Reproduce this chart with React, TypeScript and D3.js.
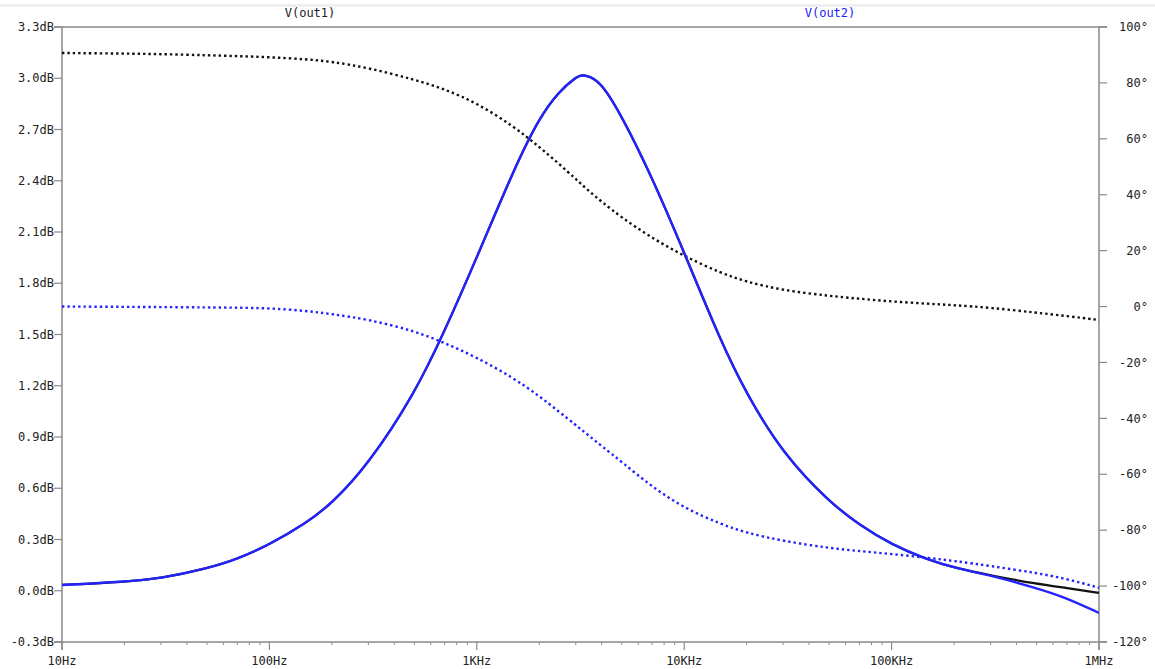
import React from "react";
import * as d3 from "d3";

// AC sweep samples, 10 Hz .. 1 MHz
const freqHz = [
  10, 20, 30, 50, 70, 100, 150, 200, 300, 500, 700,
  1e3, 1.5e3, 2e3, 2.5e3, 3e3, 3.2e3, 3.5e3, 4e3, 5e3, 7e3,
  1e4, 1.5e4, 2e4, 3e4, 5e4, 7e4, 1e5, 1.5e5, 2e5, 3e5, 5e5, 7e5, 1e6,
];

// Magnitude (dB)
const magOut1Db = [
  0.034, 0.052, 0.072, 0.13, 0.185, 0.27, 0.395, 0.51, 0.74, 1.15, 1.52,
  1.95, 2.46, 2.77, 2.925, 3.005, 3.02, 3.012, 2.97, 2.78, 2.42,
  1.98, 1.46, 1.15, 0.8, 0.52, 0.385, 0.27, 0.18, 0.135, 0.09, 0.04, 0.016, -0.013,
];
const magOut2Db = [
  0.034, 0.052, 0.072, 0.13, 0.185, 0.27, 0.395, 0.51, 0.74, 1.15, 1.52,
  1.95, 2.46, 2.77, 2.925, 3.005, 3.02, 3.012, 2.97, 2.78, 2.42,
  1.98, 1.46, 1.15, 0.8, 0.52, 0.385, 0.27, 0.18, 0.135, 0.09, 0.016, -0.042, -0.13,
];

// Phase (degrees)
const phaseOut1Deg = [
  90.7, 90.5, 90.3, 89.9, 89.6, 89.2, 88.5, 87.6, 85.4, 81.2, 77.8,
  72.8, 64.6, 57.1, 51.0, 45.6, 43.7, 41.1, 37.5, 31.8, 24.5,
  18.0, 12.0, 8.8, 5.8, 3.8, 2.8, 1.8, 1.0, 0.5, -0.4, -2.2, -3.4, -4.8,
];
const phaseOut2Deg = [
  0, -0.1, -0.2, -0.3, -0.4, -0.6, -1.5, -2.7, -4.6, -8.7, -13.0,
  -18.2, -25.5, -32.0, -37.7, -42.4, -44.1, -46.4, -49.9, -55.6, -64.5,
  -72.1, -77.8, -81.0, -83.9, -86.4, -87.5, -88.5, -89.9, -91.0, -92.8, -95.3, -97.4, -100.6,
];

const dbTicks = [-0.3, 0, 0.3, 0.6, 0.9, 1.2, 1.5, 1.8, 2.1, 2.4, 2.7, 3.0, 3.3];
const degTicks = [-120, -100, -80, -60, -40, -20, 0, 20, 40, 60, 80, 100];
const decadeTicks = [10, 100, 1e3, 1e4, 1e5, 1e6];
const decadeLabels = ["10Hz", "100Hz", "1KHz", "10KHz", "100KHz", "1MHz"];

const W = 1155;
const H = 669;
const M = { left: 62, right: 1099, top: 27, bottom: 642 };
const AXIS = "#8a8a8a";
const TEXT = "#222";
const BLUE = "#2323ff";
const FONT = "'DejaVu Sans Mono', monospace";

export default function App() {
  const x = d3.scaleLog().domain([10, 1e6]).range([M.left, M.right]);
  const yDb = d3.scaleLinear().domain([-0.3, 3.3]).range([M.bottom, M.top]);
  const yDeg = d3.scaleLinear().domain([-120, 100]).range([M.bottom, M.top]);

  const lineFor = (vals: number[], y: d3.ScaleLinear<number, number>) =>
    d3
      .line<number>()
      .x((_, i) => x(freqHz[i]))
      .y((v) => y(v))
      .curve(d3.curveBasis)(vals) as string;

  const minorTicks: number[] = [];
  for (let d = 10; d < 1e6; d *= 10) {
    for (let k = 2; k <= 9; k++) minorTicks.push(d * k);
  }

  const fmtDb = (v: number) => `${v.toFixed(1)}dB`;
  const fmtDeg = (v: number) => `${v}°`;

  return (
    <svg
      width={W}
      height={H}
      style={{ position: "absolute", left: 0, top: 0, background: "#fff" }}
      fontFamily={FONT}
    >
      <defs>
        <clipPath id="plot-clip">
          <rect x={M.left} y={M.top} width={M.right - M.left} height={M.bottom - M.top} />
        </clipPath>
      </defs>

      {/* window strip at top */}
      <rect x={0} y={4} width={W} height={3} fill="#efefef" />

      {/* frame */}
      <line x1={M.left - 8} x2={M.right + 8} y1={M.top} y2={M.top} stroke={AXIS} strokeWidth={1.5} />
      <line x1={M.left} x2={M.left} y1={M.top} y2={M.bottom + 8} stroke={AXIS} strokeWidth={1.5} />
      <line x1={M.right} x2={M.right} y1={M.top} y2={M.bottom + 8} stroke={AXIS} strokeWidth={1.5} />
      <line x1={M.left - 8} x2={M.right + 8} y1={M.bottom} y2={M.bottom} stroke={AXIS} strokeWidth={1.5} />

      {/* left dB axis */}
      {dbTicks.map((t) => (
        <g key={`db${t}`}>
          <line x1={M.left - 8} x2={M.left} y1={yDb(t)} y2={yDb(t)} stroke={AXIS} strokeWidth={1.2} />
          <text x={M.left - 8} y={yDb(t)} dy="0.35em" textAnchor="end" fontSize={12} fill={TEXT}>
            {fmtDb(t)}
          </text>
        </g>
      ))}

      {/* right phase axis */}
      {degTicks.map((t) => (
        <g key={`deg${t}`}>
          <line x1={M.right} x2={M.right + 8} y1={yDeg(t)} y2={yDeg(t)} stroke={AXIS} strokeWidth={1.2} />
          <text x={1148} y={yDeg(t)} dy="0.35em" textAnchor="end" fontSize={12} fill={TEXT}>
            {fmtDeg(t)}
          </text>
        </g>
      ))}

      {/* frequency axis */}
      {minorTicks.map((f) => (
        <line key={`m${f}`} x1={x(f)} x2={x(f)} y1={M.bottom} y2={M.bottom + 3} stroke={AXIS} strokeWidth={1} />
      ))}
      {decadeTicks.map((f, i) => (
        <g key={`f${f}`}>
          <line x1={x(f)} x2={x(f)} y1={M.bottom} y2={M.bottom + 8} stroke={AXIS} strokeWidth={1.2} />
          <text x={x(f)} y={661} dy="0.35em" textAnchor="middle" fontSize={12} fill={TEXT}>
            {decadeLabels[i]}
          </text>
        </g>
      ))}

      {/* trace names */}
      <text x={310} y={17} textAnchor="middle" fontSize={12} fill={TEXT}>V(out1)</text>
      <text x={830} y={17} textAnchor="middle" fontSize={12} fill={BLUE}>V(out2)</text>

      <g clipPath="url(#plot-clip)" fill="none">
        <path d={lineFor(phaseOut1Deg, yDeg)} stroke="#111" strokeWidth={2.4} strokeDasharray="2.4 3" />
        <path d={lineFor(phaseOut2Deg, yDeg)} stroke={BLUE} strokeWidth={2.4} strokeDasharray="2.4 3" />
        <path d={lineFor(magOut1Db, yDb)} stroke="#111" strokeWidth={2.2} />
        <path d={lineFor(magOut2Db, yDb)} stroke={BLUE} strokeWidth={2.4} />
      </g>
    </svg>
  );
}
